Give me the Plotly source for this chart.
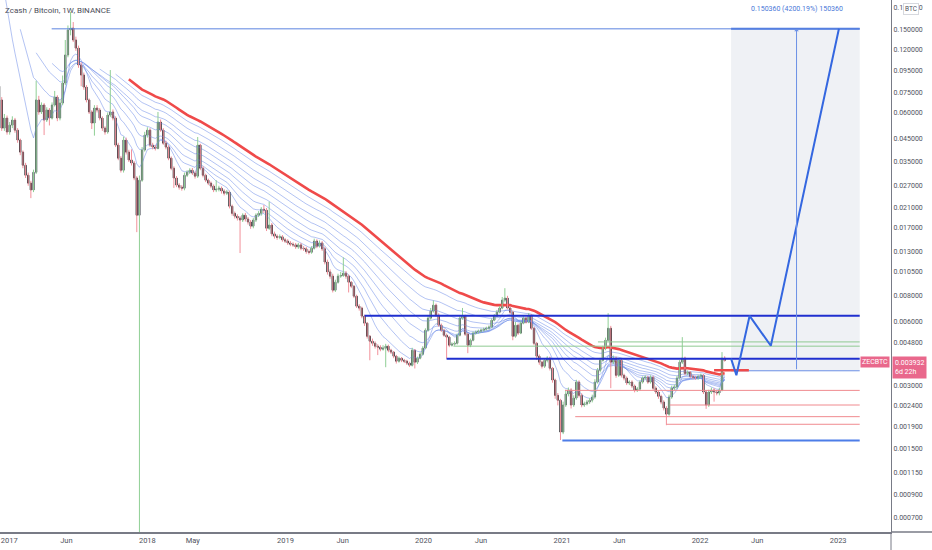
import numpy as np
import pandas as pd
import plotly.graph_objects as go

# weekly ZEC/BTC candles (Binance), first bar 2016-10-31; prices in BTC
first_open = 1.50
closes = [
    1.10, 0.22, 0.13, 0.10, 0.08, 0.0688,
    0.0505, 0.0564, 0.0484, 0.0522, 0.0552, 0.0494, 0.0443, 0.0388, 0.0336, 0.0301,
    0.0276, 0.0256, 0.0311, 0.0688, 0.0603, 0.0651, 0.0552, 0.0616, 0.0564, 0.0651,
    0.0710, 0.0564, 0.0665, 0.0829, 0.1128, 0.1484, 0.1517, 0.1330, 0.1217, 0.1010,
    0.0905, 0.0793, 0.0688, 0.0603, 0.0534, 0.0630, 0.0616, 0.0564, 0.0505, 0.0484,
    0.0583, 0.0603, 0.0564, 0.0419, 0.0363, 0.0318, 0.0443, 0.0388, 0.0356, 0.0344,
    0.0292, 0.0194, 0.0285, 0.0397, 0.0468, 0.0494, 0.0419, 0.0410, 0.0404, 0.0540,
    0.0494, 0.0428, 0.0410, 0.0363, 0.0325, 0.0292, 0.0270, 0.0264, 0.0261, 0.0301,
    0.0311, 0.0318, 0.0308, 0.0298, 0.0419, 0.0325, 0.0301, 0.0285, 0.0276, 0.0267,
    0.0256, 0.0258, 0.0261, 0.0253, 0.0247, 0.0250, 0.0214, 0.0198, 0.0192, 0.0188,
    0.0184, 0.0194, 0.0186, 0.0180, 0.0172, 0.0184, 0.0194, 0.0198, 0.0207, 0.0205,
    0.0168, 0.0174, 0.0158, 0.0154, 0.0152, 0.0153, 0.0148, 0.0146, 0.0143, 0.0141,
    0.0140, 0.0137, 0.0140, 0.0135, 0.0134, 0.0130, 0.0129, 0.0135, 0.0146, 0.0138,
    0.0143, 0.0134, 0.0116, 0.0104, 0.00993, 0.00851, 0.00929, 0.00993, 0.0100, 0.01026,
    0.00993, 0.00929, 0.00889, 0.00797, 0.00714, 0.00699, 0.00640, 0.00592, 0.00513, 0.00486,
    0.00475, 0.00460, 0.00455, 0.00445, 0.00450, 0.00460, 0.00440, 0.00431, 0.00412, 0.00390,
    0.00403, 0.00394, 0.00390, 0.00382, 0.00373, 0.00440, 0.00386, 0.00403, 0.00421, 0.00450,
    0.00548, 0.00626, 0.00676, 0.00722, 0.00647, 0.00579, 0.00548, 0.00519, 0.00508, 0.00465,
    0.00470, 0.00475, 0.00519, 0.00626, 0.00640, 0.00525, 0.00465, 0.00491, 0.00531, 0.00537,
    0.00542, 0.00548, 0.00554, 0.00560, 0.00567, 0.00612, 0.00640, 0.00668, 0.00699, 0.00763,
    0.00780, 0.00699, 0.00668, 0.00513, 0.00579, 0.00531, 0.00592, 0.00626, 0.00599, 0.00647,
    0.00560, 0.00475, 0.00412, 0.00386, 0.00369, 0.00394, 0.00403, 0.00361, 0.00317, 0.00268,
    0.00254, 0.00179, 0.00241, 0.00272, 0.00284, 0.00241, 0.00260, 0.00310, 0.00268, 0.00241,
    0.00244, 0.00249, 0.00254, 0.00263, 0.00310, 0.00353, 0.00394, 0.00450, 0.00491, 0.00560,
    0.00386, 0.00403, 0.00334, 0.00394, 0.00334, 0.00324, 0.00307, 0.00310, 0.00297, 0.00284,
    0.00287, 0.00310, 0.00324, 0.00327, 0.00310, 0.00327, 0.00290, 0.00278, 0.00265, 0.00249,
    0.00233, 0.00218, 0.00263, 0.00290, 0.00294, 0.00324, 0.00386, 0.00403, 0.00341, 0.00345,
    0.00330, 0.00327, 0.00324, 0.00330, 0.00334, 0.00278, 0.00241, 0.00278, 0.00284, 0.00278,
    0.00275, 0.00284, 0.00403, 0.003932,
]
highs = [
    2.60, 1.20, 0.24, 0.14, 0.105, 0.084,
    0.0710, 0.0590, 0.0580, 0.0540, 0.0575, 0.0565, 0.0505, 0.0450, 0.0395, 0.0345,
    0.0310, 0.0283, 0.0320, 0.0850, 0.0720, 0.0670, 0.0665, 0.0635, 0.0630, 0.0670,
    0.0760, 0.0725, 0.0690, 0.0900, 0.1330, 0.1560, 0.1810, 0.1620, 0.1380, 0.1250,
    0.1040, 0.0930, 0.0810, 0.0700, 0.0615, 0.0650, 0.0650, 0.0630, 0.0575, 0.0515,
    0.0600, 0.0956, 0.0620, 0.0575, 0.0430, 0.0372, 0.0460, 0.0455, 0.0398, 0.0400,
    0.0352, 0.0298, 0.0300, 0.0410, 0.0485, 0.0510, 0.0505, 0.0430, 0.0420, 0.0603,
    0.0555, 0.0505, 0.0440, 0.0418, 0.0370, 0.0332, 0.0298, 0.0276, 0.0270, 0.0310,
    0.0318, 0.0325, 0.0326, 0.0314, 0.0458, 0.0425, 0.0332, 0.0306, 0.0290, 0.0281,
    0.0272, 0.0285, 0.0268, 0.0266, 0.0258, 0.0256, 0.0254, 0.0218, 0.0202, 0.0196,
    0.0192, 0.0198, 0.0199, 0.0190, 0.0184, 0.0188, 0.0198, 0.0203, 0.0212, 0.0217,
    0.0210, 0.0225, 0.0178, 0.0162, 0.0157, 0.0157, 0.0156, 0.0151, 0.0149, 0.0146,
    0.0144, 0.0143, 0.0143, 0.0143, 0.0138, 0.0137, 0.0133, 0.0138, 0.0150, 0.0149,
    0.0147, 0.0146, 0.0137, 0.0119, 0.0107, 0.0102, 0.00955, 0.0102, 0.0104, 0.0122,
    0.0105, 0.0101, 0.0094, 0.0090, 0.0081, 0.0073, 0.0071, 0.0065, 0.0060, 0.0052,
    0.0050, 0.00485, 0.00470, 0.00465, 0.00465, 0.00472, 0.00468, 0.00447, 0.00436, 0.00418,
    0.00410, 0.00408, 0.00400, 0.00396, 0.00388, 0.00452, 0.00446, 0.00410, 0.00430, 0.00460,
    0.00560, 0.00640, 0.00700, 0.00760, 0.00735, 0.00660, 0.00590, 0.00556, 0.00528, 0.00515,
    0.00480, 0.00485, 0.00528, 0.00640, 0.00700, 0.00650, 0.00532, 0.00500, 0.00540, 0.00546,
    0.00552, 0.00558, 0.00564, 0.00570, 0.00578, 0.00625, 0.00655, 0.00685, 0.00715, 0.00790,
    0.00870, 0.00800, 0.00712, 0.00680, 0.00600, 0.00590, 0.00605, 0.00640, 0.00635, 0.00662,
    0.00655, 0.00568, 0.00482, 0.00420, 0.00392, 0.00400, 0.00412, 0.00410, 0.00366, 0.00322,
    0.00275, 0.00258, 0.00250, 0.00285, 0.00292, 0.00290, 0.00268, 0.00318, 0.00316, 0.00274,
    0.00250, 0.00255, 0.00260, 0.00270, 0.00320, 0.00362, 0.00405, 0.00462, 0.00505, 0.00661,
    0.00575, 0.00415, 0.00410, 0.00402, 0.00400, 0.00340, 0.00330, 0.00316, 0.00316, 0.00302,
    0.00294, 0.00316, 0.00330, 0.00334, 0.00332, 0.00334, 0.00332, 0.00296, 0.00282, 0.00270,
    0.00254, 0.00238, 0.00270, 0.00298, 0.00302, 0.00332, 0.00395, 0.00508, 0.00410, 0.00352,
    0.00350, 0.00336, 0.00332, 0.00336, 0.00340, 0.00338, 0.00284, 0.00285, 0.00292, 0.00290,
    0.00284, 0.00290, 0.00431, 0.00412,
]
lows = [
    0.95, 0.20, 0.12, 0.095, 0.075, 0.066,
    0.0490, 0.0490, 0.0470, 0.0470, 0.0505, 0.0480, 0.0430, 0.0375, 0.0325, 0.0292,
    0.0268, 0.0234, 0.0250, 0.0305, 0.0585, 0.0590, 0.0468, 0.0540, 0.0520, 0.0555,
    0.0640, 0.0545, 0.0550, 0.0650, 0.0810, 0.1100, 0.1400, 0.1300, 0.1180, 0.0980,
    0.0800, 0.0770, 0.0670, 0.0590, 0.0500, 0.0465, 0.0600, 0.0550, 0.0490, 0.0470,
    0.0475, 0.0570, 0.0550, 0.0410, 0.0355, 0.0310, 0.0310, 0.0378, 0.0348, 0.0335,
    0.0285, 0.0161, 0.0004, 0.0280, 0.0390, 0.0455, 0.0410, 0.0400, 0.0395, 0.0400,
    0.0485, 0.0420, 0.0400, 0.0355, 0.0318, 0.0262, 0.0264, 0.0257, 0.0254, 0.0255,
    0.0295, 0.0305, 0.0302, 0.0290, 0.0292, 0.0318, 0.0294, 0.0279, 0.0270, 0.0261,
    0.0250, 0.0250, 0.0252, 0.0246, 0.0241, 0.0242, 0.0209, 0.0193, 0.0187, 0.0183,
    0.0128, 0.0180, 0.0181, 0.0175, 0.0167, 0.0168, 0.0180, 0.0190, 0.0193, 0.0199,
    0.0163, 0.0165, 0.0154, 0.0150, 0.0148, 0.0149, 0.0145, 0.0143, 0.0140, 0.0138,
    0.0137, 0.0134, 0.0134, 0.0132, 0.0131, 0.0127, 0.0126, 0.0127, 0.0133, 0.0135,
    0.0136, 0.0131, 0.0113, 0.0101, 0.00965, 0.00830, 0.00835, 0.00915, 0.00975, 0.00985,
    0.00965, 0.00830, 0.00870, 0.00780, 0.00700, 0.00680, 0.00625, 0.00575, 0.00500, 0.00394,
    0.00462, 0.00448, 0.00417, 0.00435, 0.00438, 0.00365, 0.00430, 0.00422, 0.00403, 0.00380,
    0.00384, 0.00386, 0.00382, 0.00374, 0.00366, 0.00368, 0.00360, 0.00378, 0.00398, 0.00415,
    0.00445, 0.00540, 0.00615, 0.00665, 0.00635, 0.00570, 0.00538, 0.00510, 0.00401, 0.00455,
    0.00458, 0.00462, 0.00468, 0.00512, 0.00615, 0.00515, 0.00426, 0.00455, 0.00485, 0.00522,
    0.00528, 0.00534, 0.00540, 0.00546, 0.00552, 0.00560, 0.00605, 0.00632, 0.00660, 0.00690,
    0.00745, 0.00690, 0.00655, 0.00491, 0.00505, 0.00520, 0.00525, 0.00585, 0.00590, 0.00592,
    0.00550, 0.00465, 0.00395, 0.00375, 0.00360, 0.00362, 0.00385, 0.00352, 0.00308, 0.00258,
    0.00240, 0.00164, 0.00175, 0.00236, 0.00265, 0.00232, 0.00236, 0.00255, 0.00262, 0.00235,
    0.00236, 0.00240, 0.00244, 0.00248, 0.00258, 0.00305, 0.00345, 0.00388, 0.00440, 0.00485,
    0.00290, 0.00378, 0.00325, 0.00328, 0.00326, 0.00316, 0.00300, 0.00300, 0.00290, 0.00277,
    0.00278, 0.00281, 0.00305, 0.00318, 0.00304, 0.00305, 0.00283, 0.00272, 0.00258, 0.00243,
    0.00227, 0.00193, 0.00214, 0.00258, 0.00284, 0.00288, 0.00318, 0.00378, 0.00334, 0.00334,
    0.00324, 0.00320, 0.00318, 0.00318, 0.00324, 0.00272, 0.00231, 0.00236, 0.00272, 0.00250,
    0.00268, 0.00268, 0.00280, 0.00388,
]
dates = pd.date_range("2016-10-31", periods=len(closes), freq="7D")
opens = [first_open] + closes[:-1]
last_price = closes[-1]

# EMA ribbon lengths
blue_lengths = [8, 14, 20, 26, 32, 38, 44, 50]
red_length = 55

# hand drawn horizontal levels
level_prices = [0.15036, 0.00642, 0.00401, 0.00460, 0.00482, 0.00283, 0.00241, 0.00212, 0.00195, 0.00163, 0.00353]
level_starts = ["2017-04-23", "2019-07-29", "2020-03-02", "2020-03-20", "2021-04-06", "2021-01-09",
                "2021-10-13", "2021-02-05", "2021-10-05", "2021-01-02", "2022-02-07"]
level_ends = ["2023-02-27"] * 10 + ["2022-05-10"]
level_styles = [("#5b84e0", 1), ("#1f2fcf", 2), ("#1f2fcf", 2), ("#8fca92", 1), ("#8fca92", 1),
                ("#f08a8f", 1), ("#f08a8f", 1), ("#f08a8f", 1), ("#f08a8f", 1), ("#4d7de8", 2),
                ("#ef4a4a", 2.6)]

# projected path and price range box
proj_dates = ["2022-03-24", "2022-04-07", "2022-05-12", "2022-07-07", "2023-01-03"]
proj_prices = [0.00401, 0.00334, 0.00642, 0.00462, 0.15036]
box_dates = ["2022-03-24", "2023-02-27"]
box_prices = [0.00351, 0.15036]
arrow_date = "2022-09-13"
range_label = "0.150360 (4200.19%) 150360"

y_ticks = [0.19, 0.15, 0.12, 0.095, 0.075, 0.06, 0.045, 0.035, 0.027, 0.021, 0.017, 0.013,
           0.0105, 0.008, 0.006, 0.0048, 0.003, 0.0024, 0.0019, 0.0015, 0.00115, 0.0009, 0.0007]
x_tick_dates = ["2017-01-01", "2017-06-01", "2018-01-01", "2018-05-01", "2019-01-01", "2019-06-01",
                "2020-01-01", "2020-06-01", "2021-01-01", "2021-06-01", "2022-01-01", "2022-06-01", "2023-01-01"]
x_tick_text = ["2017", "Jun", "2018", "May", "2019", "Jun", "2020", "Jun", "2021", "Jun", "2022", "Jun", "2023"]


def pine_ema(vals, n):
    out = [None] * len(vals)
    e = sum(vals[:n]) / n
    out[n - 1] = e
    a = 2 / (n + 1)
    for i in range(n, len(vals)):
        e = a * vals[i] + (1 - a) * e
        out[i] = e
    return out


fig = go.Figure()

# price range box
fig.add_trace(go.Scatter(
    x=[box_dates[0], box_dates[1], box_dates[1], box_dates[0], box_dates[0]],
    y=[box_prices[0], box_prices[0], box_prices[1], box_prices[1], box_prices[0]],
    mode="lines", fill="toself", fillcolor="#eff1f5", line=dict(width=0), hoverinfo="skip"))
fig.add_trace(go.Scatter(x=box_dates, y=[box_prices[0]] * 2, mode="lines",
                         line=dict(color="#6b90e6", width=1), hoverinfo="skip"))
fig.add_trace(go.Scatter(x=box_dates, y=[box_prices[1]] * 2, mode="lines",
                         line=dict(color="#4a78e0", width=2), hoverinfo="skip"))

# ribbon
for n in blue_lengths:
    fig.add_trace(go.Scatter(x=dates, y=pine_ema(closes, n), mode="lines",
                             line=dict(color="rgba(80,118,228,0.55)", width=0.8), hoverinfo="skip"))
fig.add_trace(go.Scatter(x=dates, y=pine_ema(closes, red_length), mode="lines",
                         line=dict(color="#ef4a4a", width=2.6), hoverinfo="skip"))

# wicks
up_x, up_y, dn_x, dn_y = [], [], [], []
for d, o, h, l, c in zip(dates, opens, highs, lows, closes):
    if c >= o:
        up_x += [d, d, None]
        up_y += [l, h, None]
    else:
        dn_x += [d, d, None]
        dn_y += [l, h, None]
fig.add_trace(go.Scatter(x=up_x, y=up_y, mode="lines", line=dict(color="#8fcf95", width=1), hoverinfo="skip"))
fig.add_trace(go.Scatter(x=dn_x, y=dn_y, mode="lines", line=dict(color="#f2909a", width=1), hoverinfo="skip"))

# bodies
body_hi = [max(o, c) for o, c in zip(opens, closes)]
body_lo = [min(o, c) for o, c in zip(opens, closes)]
fig.add_trace(go.Candlestick(
    x=dates, open=opens, high=body_hi, low=body_lo, close=closes,
    increasing=dict(line=dict(color="#55585f", width=1), fillcolor="#6f727a"),
    decreasing=dict(line=dict(color="#2a2c31", width=1), fillcolor="#2a2c31"),
    hoverinfo="skip"))

# horizontal drawings
for p, s, e, (col, w) in zip(level_prices, level_starts, level_ends, level_styles):
    fig.add_trace(go.Scatter(x=[s, e], y=[p, p], mode="lines",
                             line=dict(color=col, width=w), hoverinfo="skip"))

# projection
fig.add_trace(go.Scatter(x=proj_dates, y=proj_prices, mode="lines",
                         line=dict(color="#3467e0", width=2), hoverinfo="skip"))

pink = "#e9688c"
annotations = [
    dict(text="Zcash / Bitcoin, 1W, BINANCE", xref="paper", yref="paper", x=0, y=1,
         xanchor="left", yanchor="top", xshift=3, yshift=-4, showarrow=False,
         font=dict(size=8, color="#4a4d57")),
    dict(text=range_label, xref="x", yref="paper", x=arrow_date, y=1, xanchor="center",
         yanchor="top", yshift=-3, showarrow=False, font=dict(size=7, color="#4a78d8")),
    dict(text="", xref="x", yref="y", x=arrow_date, y=np.log10(box_prices[1]),
         axref="x", ayref="y", ax=arrow_date, ay=np.log10(box_prices[0]),
         showarrow=True, arrowhead=1, arrowsize=0.8, arrowwidth=1, arrowcolor="#6b90e6"),
    dict(text="0.003932<br>6d 22h", xref="paper", yref="y", x=1, y=np.log10(last_price),
         xanchor="left", yanchor="middle", xshift=1, yshift=-7, showarrow=False, align="left",
         bgcolor=pink, borderpad=2, font=dict(size=7, color="white")),
    dict(text="ZECBTC", xref="paper", yref="y", x=1, y=np.log10(last_price),
         xanchor="right", yanchor="middle", xshift=-1, yshift=-2, showarrow=False,
         bgcolor=pink, borderpad=1, font=dict(size=7, color="white")),
    dict(text="BTC", xref="paper", yref="paper", x=1, y=1, xanchor="left", yanchor="top",
         xshift=12, yshift=-3, showarrow=False, bgcolor="white", bordercolor="#d6d8de",
         borderwidth=1, borderpad=1, font=dict(size=6.5, color="#50535e")),
]

fig.update_layout(
    width=932, height=550,
    margin=dict(l=0, r=41, t=0, b=18),
    paper_bgcolor="white", plot_bgcolor="white",
    showlegend=False, hovermode=False,
    font=dict(family="Roboto, Arial, sans-serif"),
    annotations=annotations,
    shapes=[
        dict(type="line", xref="paper", yref="paper", x0=1, x1=1, y0=-18 / 532, y1=0,
             line=dict(color="#787b86", width=1)),
        dict(type="line", xref="paper", yref="paper", x0=1, x1=932 / 891, y0=0, y1=0,
             line=dict(color="#787b86", width=1.5)),
    ],
)
fig.update_xaxes(
    type="date", range=["2016-12-07 10:00", "2023-05-20 17:00"],
    rangeslider_visible=False, showgrid=False, zeroline=False,
    showline=True, linecolor="#787b86", linewidth=1.5,
    tickvals=x_tick_dates, ticktext=x_tick_text, ticks="",
    tickfont=dict(size=7.5, color="#50535e"),
)
fig.update_yaxes(
    type="log", range=[np.log10(0.000597), np.log10(0.2064)], side="right",
    showgrid=False, zeroline=False, showline=True, linecolor="#787b86", linewidth=1,
    tickvals=y_ticks, ticktext=[f"{v:.6f}" for v in y_ticks], ticks="",
    tickfont=dict(size=7, color="#50535e"),
)

# the page's default body margin would push the fixed-size figure off the window
fig.write_html("out.html", config={"displayModeBar": False},
               post_script="document.body.style.margin='0px';")
